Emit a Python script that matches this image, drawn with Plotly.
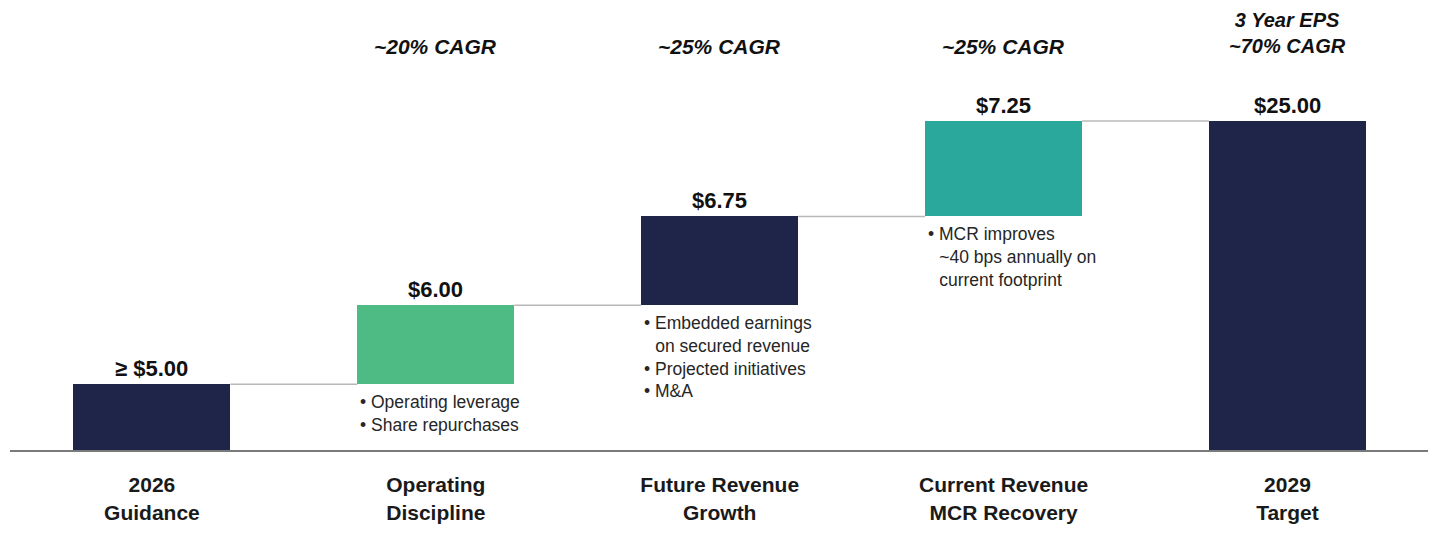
import plotly.graph_objects as go

categories = ["2026<br>Guidance", "Operating<br>Discipline", "Future Revenue<br>Growth",
              "Current Revenue<br>MCR Recovery", "2029<br>Target"]
steps = [5.00, 6.00, 6.75, 7.25]          # contributions
value_labels = ["≥ $5.00", "$6.00", "$6.75", "$7.25", "$25.00"]
cagr_labels = ["", "~20% CAGR", "~25% CAGR", "~25% CAGR", "3 Year EPS<br>~70% CAGR"]
IND = "\u00a0\u00a0\u200a"
bullets = [
    "",
    "•\u00a0Operating leverage<br>•\u00a0Share repurchases",
    "•\u00a0Embedded earnings<br>" + IND + "on secured revenue<br>•\u00a0Projected initiatives<br>•\u00a0M&A",
    "•\u00a0MCR improves<br>" + IND + "~40 bps annually on<br>" + IND + "current footprint",
    "",
]
colors = ["#1e2548", "#4dbb83", "#1e2548", "#2aa89b", "#1e2548"]

# derived bases / heights
total = sum(steps)
bases = []
acc = 0.0
for s in steps:
    bases.append(acc)
    acc += s
bases.append(0.0)
heights = steps + [total]
tops = [b + h for b, h in zip(bases, heights)]
xs = list(range(len(categories)))
W = 0.553

FONT = "Liberation Sans, Arial, sans-serif"
fig = go.Figure()

# connectors
for i in range(len(xs) - 1):
    level = tops[i]
    fig.add_trace(go.Scatter(x=[xs[i] + W / 2, xs[i + 1] - W / 2], y=[level, level],
                             mode="lines", line=dict(color="#b8b8b8", width=1.5),
                             hoverinfo="skip", showlegend=False))

fig.add_trace(go.Bar(x=xs, y=heights, base=bases, width=W,
                     marker=dict(color=colors, line=dict(width=0)),
                     showlegend=False, hoverinfo="skip"))

annotations = []
for i in xs:
    annotations.append(dict(x=xs[i], y=tops[i], xref="x", yref="y", text="<b>" + value_labels[i] + "</b>",
                            showarrow=False, yanchor="bottom", yshift=1,
                            font=dict(family=FONT, size=22, color="#111111")))
    if cagr_labels[i]:
        two = "<br>" in cagr_labels[i]
        annotations.append(dict(x=xs[i], y=1, xref="x", yref="paper",
                                text="<b><i>" + cagr_labels[i] + "</i></b>",
                                showarrow=False, yanchor="middle",
                                yshift=-25 if two else -38,
                                font=dict(family=FONT, size=20 if two else 21, color="#111111")))
    if bullets[i]:
        annotations.append(dict(x=xs[i] - W / 2, y=bases[i], xref="x", yref="y", text=bullets[i],
                                showarrow=False, xanchor="left", yanchor="top", align="left",
                                xshift=1, yshift=-6,
                                font=dict(family=FONT, size=17.5, color="#262626")))

fig.update_layout(
    width=1420, height=517,
    margin=dict(l=2, r=0, t=0, b=75),
    paper_bgcolor="white", plot_bgcolor="white",
    annotations=annotations,
    bargap=0,
)
fig.update_xaxes(range=[-0.5, 4.495], tickvals=xs, ticktext=["<b>" + c + "</b>" for c in categories],
                 tickfont=dict(family=FONT, size=21, color="#1a1a1a"),
                 showline=True, linecolor="#7a7a7a", linewidth=2, showgrid=False,
                 zeroline=False, ticks="", ticklabelstandoff=15)
fig.update_yaxes(range=[0, 33.59], visible=False, showgrid=False, zeroline=False)

fig.write_html("out.html")
